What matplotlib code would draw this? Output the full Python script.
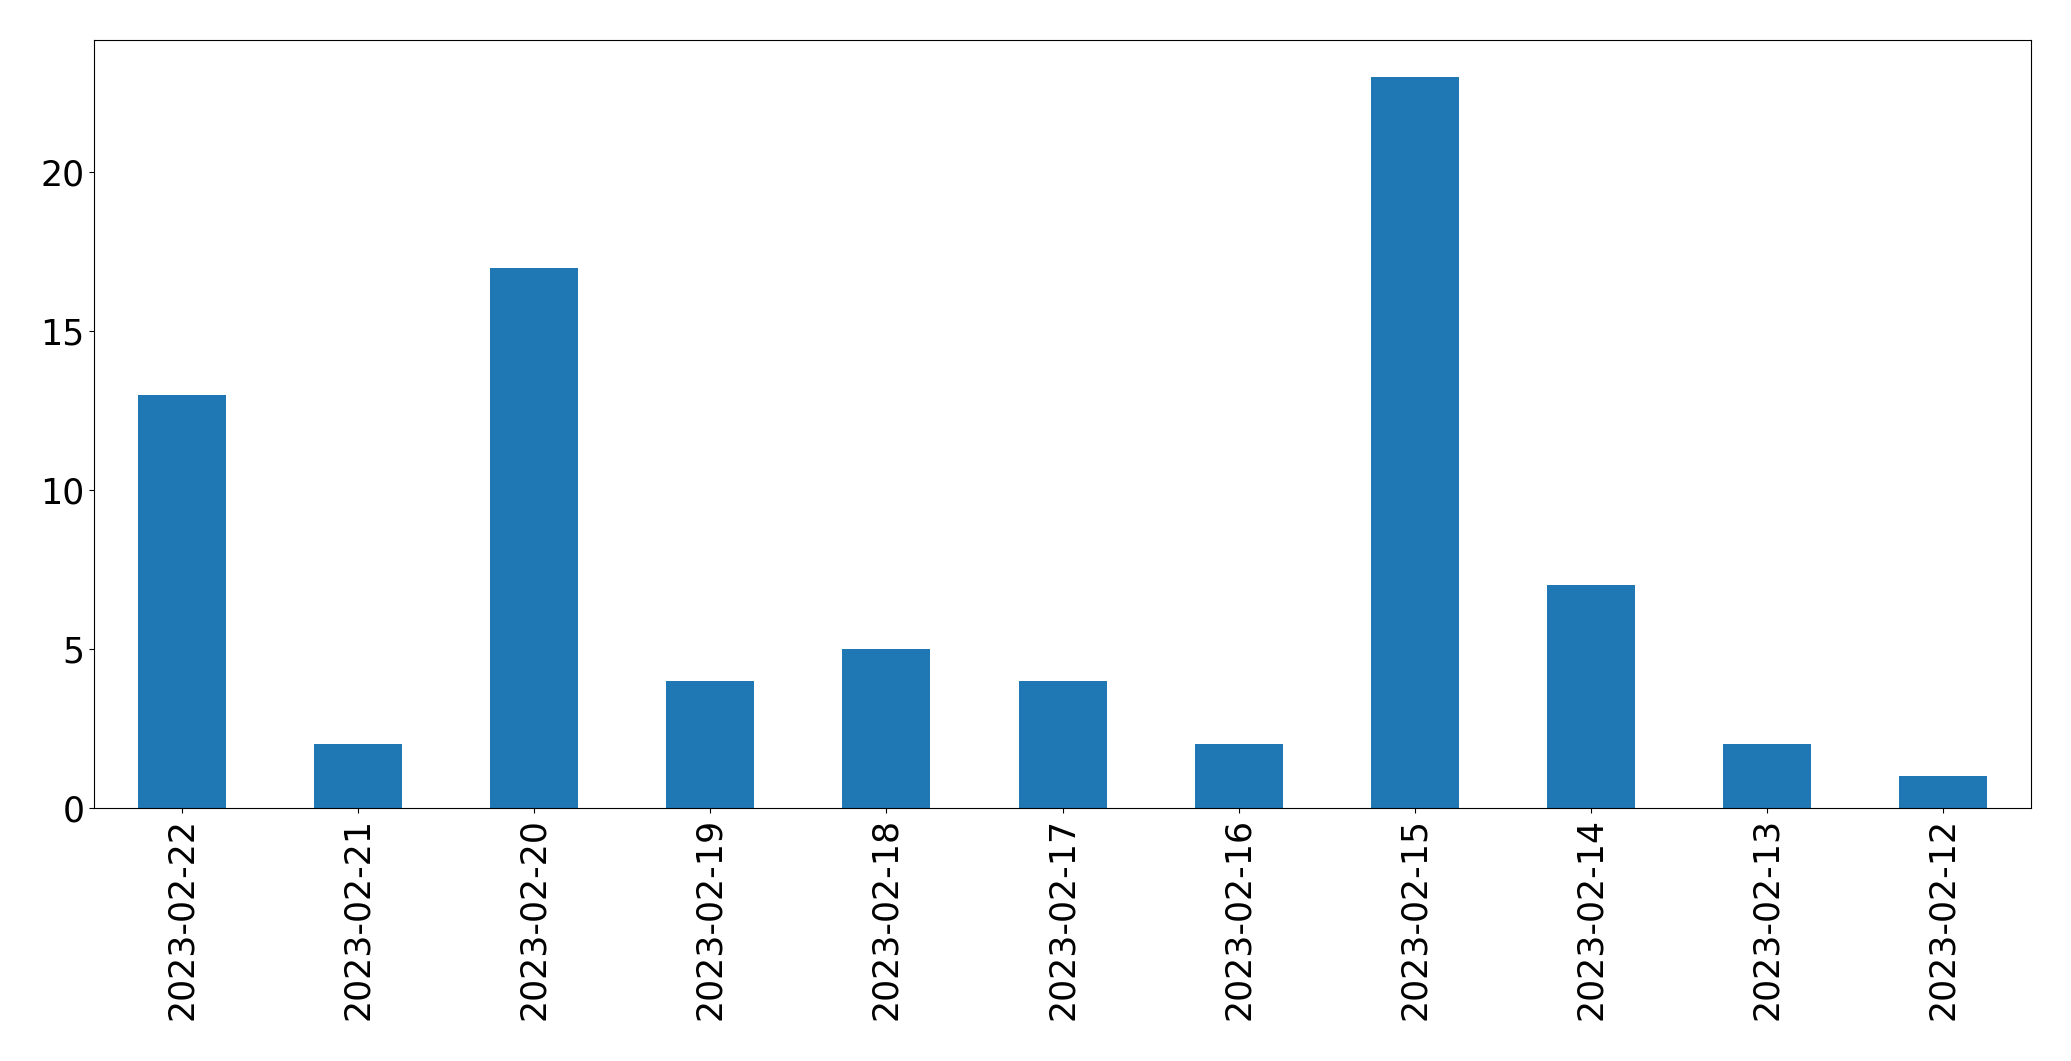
import pandas as pd
import matplotlib
matplotlib.use("Agg")
import matplotlib.pyplot as plt

dates = ["2023-02-22", "2023-02-21", "2023-02-20", "2023-02-19", "2023-02-18",
         "2023-02-17", "2023-02-16", "2023-02-15", "2023-02-14", "2023-02-13",
         "2023-02-12"]
counts = [13, 2, 17, 4, 5, 4, 2, 23, 7, 2, 1]


def main():
    s = pd.Series(counts, index=dates)

    fig = plt.figure(figsize=(20.71, 10.61), dpi=100)
    ax = fig.add_axes([0.0454, 0.2385, 0.9353, 0.7235])
    s.plot(kind="bar", ax=ax, color="#1f77b4", fontsize=25)
    ax.tick_params(axis="both", labelsize=25)
    fig.savefig("out.png", dpi=100)


if __name__ == "__main__":
    main()
